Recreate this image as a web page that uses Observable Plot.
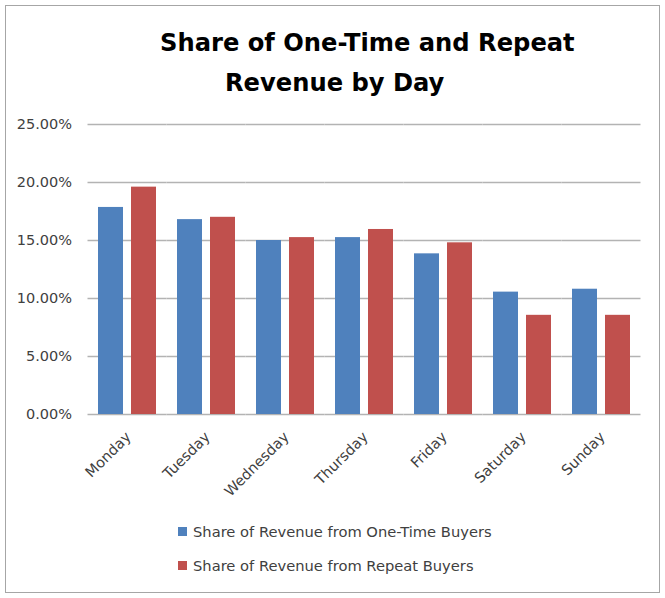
<!DOCTYPE html>
<html><head><meta charset="utf-8">
<script src="https://cdn.jsdelivr.net/npm/d3@7"></script>
<script src="https://cdn.jsdelivr.net/npm/@observablehq/plot@0.6"></script>
<style>
body{margin:0;background:#fff;font-family:"DejaVu Sans",sans-serif;}
#wrap{position:relative;width:665px;height:598px;}
#frame{position:absolute;left:5px;top:5px;width:653px;height:586px;border:1px solid #a6a6a6;pointer-events:none;}
#title{position:relative;width:665px;height:110px;font-weight:bold;font-size:24.2px;color:#000;}
#title div{position:absolute;white-space:nowrap;line-height:30px;}
#chart svg{display:block;}
#legend{position:absolute;left:178px;top:514px;font-size:14.7px;color:#404040;}
#legend .row{display:flex;align-items:center;height:34px;}
#legend .sw{width:9px;height:9px;margin-right:6px;}
</style></head>
<body><div id="wrap">
<div id="title"><div id="t1" style="left:160px;top:28px"></div><div id="t2" style="left:225px;top:68px"></div></div>
<div id="chart"></div>
<div id="legend"></div>
<div id="frame"></div>
</div>
<script>
const titleLines = ["Share of One-Time and Repeat", "Revenue by Day"];
const days = ["Monday","Tuesday","Wednesday","Thursday","Friday","Saturday","Sunday"];
const series = ["Share of Revenue from One-Time Buyers","Share of Revenue from Repeat Buyers"];
const oneTime = [17.85,16.8,15.0,15.25,13.85,10.55,10.8];
const repeat = [19.6,17.0,15.25,15.95,14.8,8.55,8.55];
const colors = ["#4F81BD","#C0504D"];
const yTicks = [0,5,10,15,20,25];

document.getElementById("t1").textContent = titleLines[0];
document.getElementById("t2").textContent = titleLines[1];

const data = days.flatMap((d,i)=>[
  {day:d, series:series[0], value:oneTime[i]},
  {day:d, series:series[1], value:repeat[i]}
]);

const chart = Plot.plot({
  width:665, height:390, marginTop:14, marginBottom:86, marginLeft:87, marginRight:24,
  fx:{domain:days, paddingInner:0.24, paddingOuter:0.12, label:null},
  x:{domain:series, paddingInner:0.23, paddingOuter:0, axis:null},
  y:{domain:[0,25], ticks:yTicks, label:null},
  color:{domain:series, range:colors},
  style:{fontFamily:"'DejaVu Sans', sans-serif", fontSize:"14px", color:"#404040", background:"transparent"},
  marks:[
    Plot.ruleY(yTicks,{stroke:"#b3b3b3", strokeWidth:1.5, insetLeft:-9.5, insetRight:-9.5}),
    Plot.axisY({ticks:yTicks, tickFormat:d=>d.toFixed(2)+"%", tickSize:0, tickPadding:4, dx:-21.5, label:null, fontSize:14.5}),
    Plot.axisFx({anchor:"bottom", tickRotate:-45, tickSize:0, tickPadding:20, dx:1, label:null, fontSize:14.5}),
    Plot.barY(data,{fx:"day", x:"series", y:"value", fill:"series"})
  ]
});
document.getElementById("chart").appendChild(chart);

const lg = document.getElementById("legend");
series.forEach((s,i)=>{
  const r = document.createElement("div"); r.className="row";
  const sw = document.createElement("div"); sw.className="sw"; sw.style.background=colors[i];
  const t = document.createElement("span"); t.textContent=s;
  r.appendChild(sw); r.appendChild(t); lg.appendChild(r);
});
</script>
</body></html>
